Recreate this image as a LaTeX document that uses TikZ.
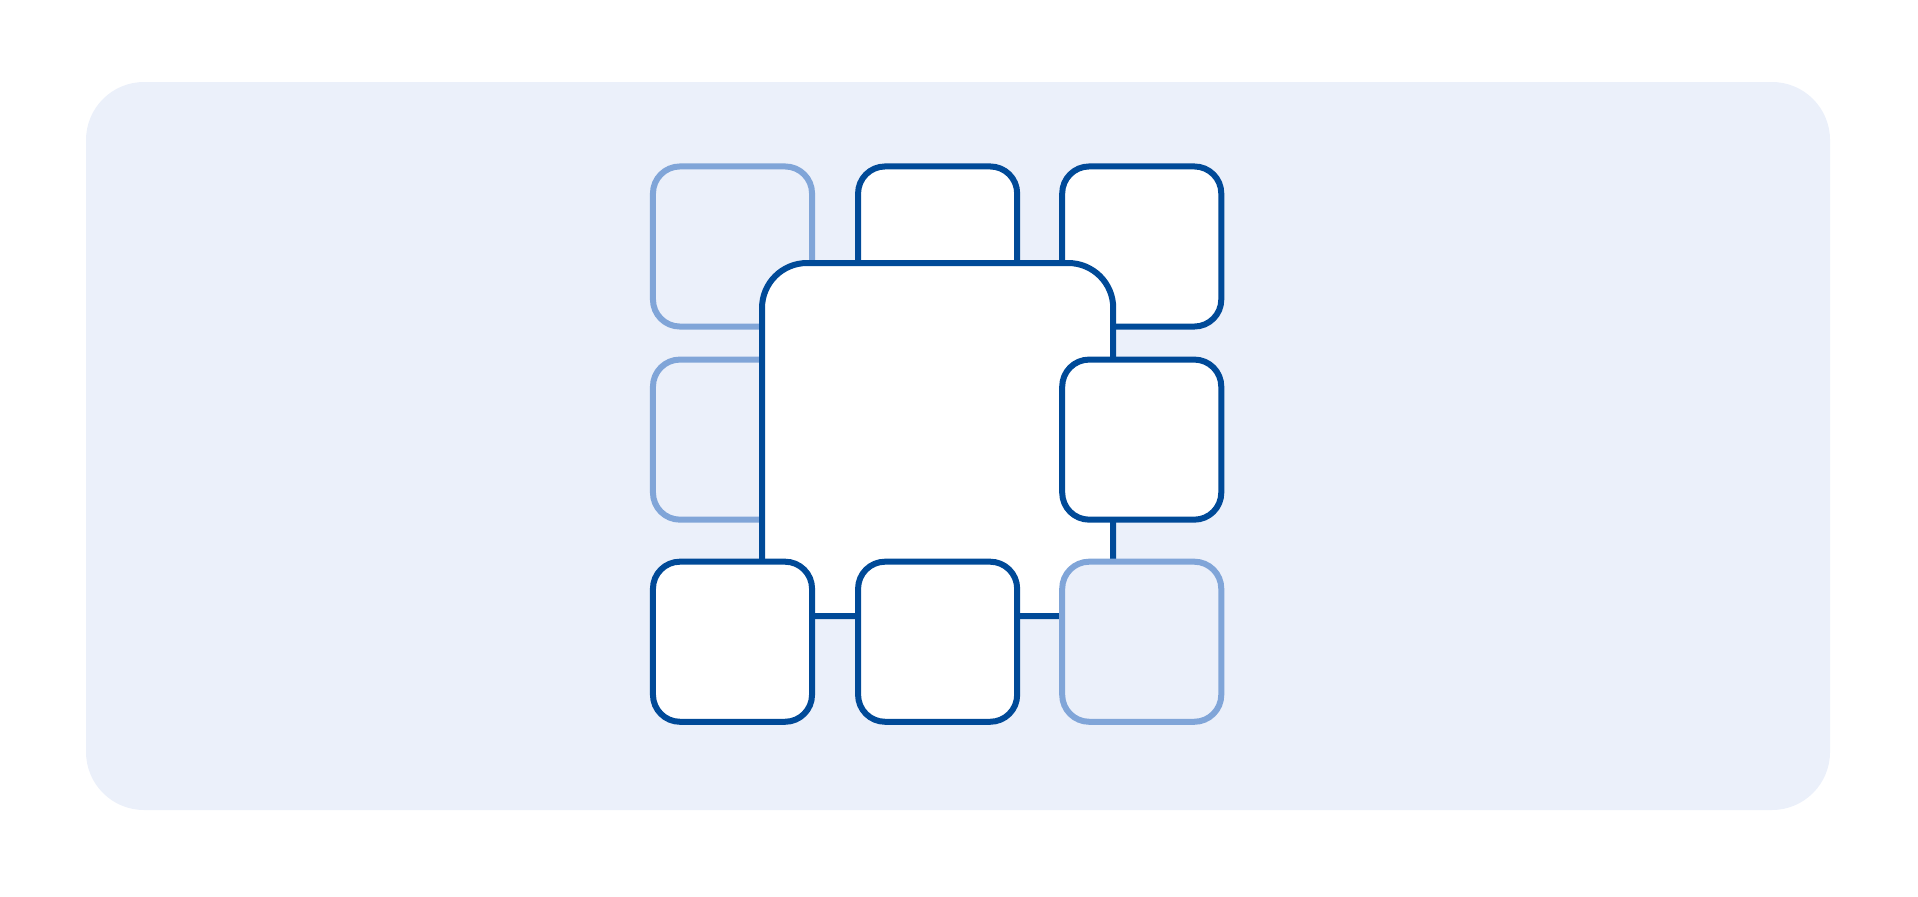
\documentclass[tikz,border=0pt]{standalone}
\usepackage{xcolor}
\usepackage{tikz}
\usetikzlibrary{positioning}

\definecolor{tileblue}{RGB}{0,74,152}
\definecolor{tilefaint}{RGB}{128,165,216}
\definecolor{panelblue}{RGB}{235,240,250}

\begin{document}
\begin{tikzpicture}[
    x=0.01cm, y=-0.01cm,
    tile/.style={rectangle, rounded corners=0.27cm, draw=tileblue, fill=white, line width=0.06cm, minimum width=1.59cm, minimum height=1.60cm, outer sep=0pt, inner sep=0pt},
    faint/.style={tile, draw=tilefaint, fill=panelblue},
    core/.style={rectangle, rounded corners=0.45cm, draw=tileblue, fill=white, line width=0.06cm, minimum width=3.51cm, minimum height=3.53cm, outer sep=0pt, inner sep=0pt}
]

\useasboundingbox (0,0) rectangle (1918,897);
\fill[panelblue, rounded corners=0.58cm] (86,82) rectangle (1830,810);

% tiles lying under the core
\node[faint] (tl) at (732.5,246.5) {};
\node[tile, right=0.46cm of tl] (tm) {};
\node[tile, right=0.45cm of tm] (tr) {};
\node[faint, below=0.33cm of tl] (ml) {};

% core square
\node[core] (big) at (tm |- ml) {};

% tiles lying over the core
\node[tile, below=0.33cm of tr] (mr) {};
\node[tile, below=0.42cm of ml] (bl) {};
\node[tile, right=0.46cm of bl] (bm) {};
\node[faint, right=0.45cm of bm] (br) {};

\end{tikzpicture}
\end{document}
